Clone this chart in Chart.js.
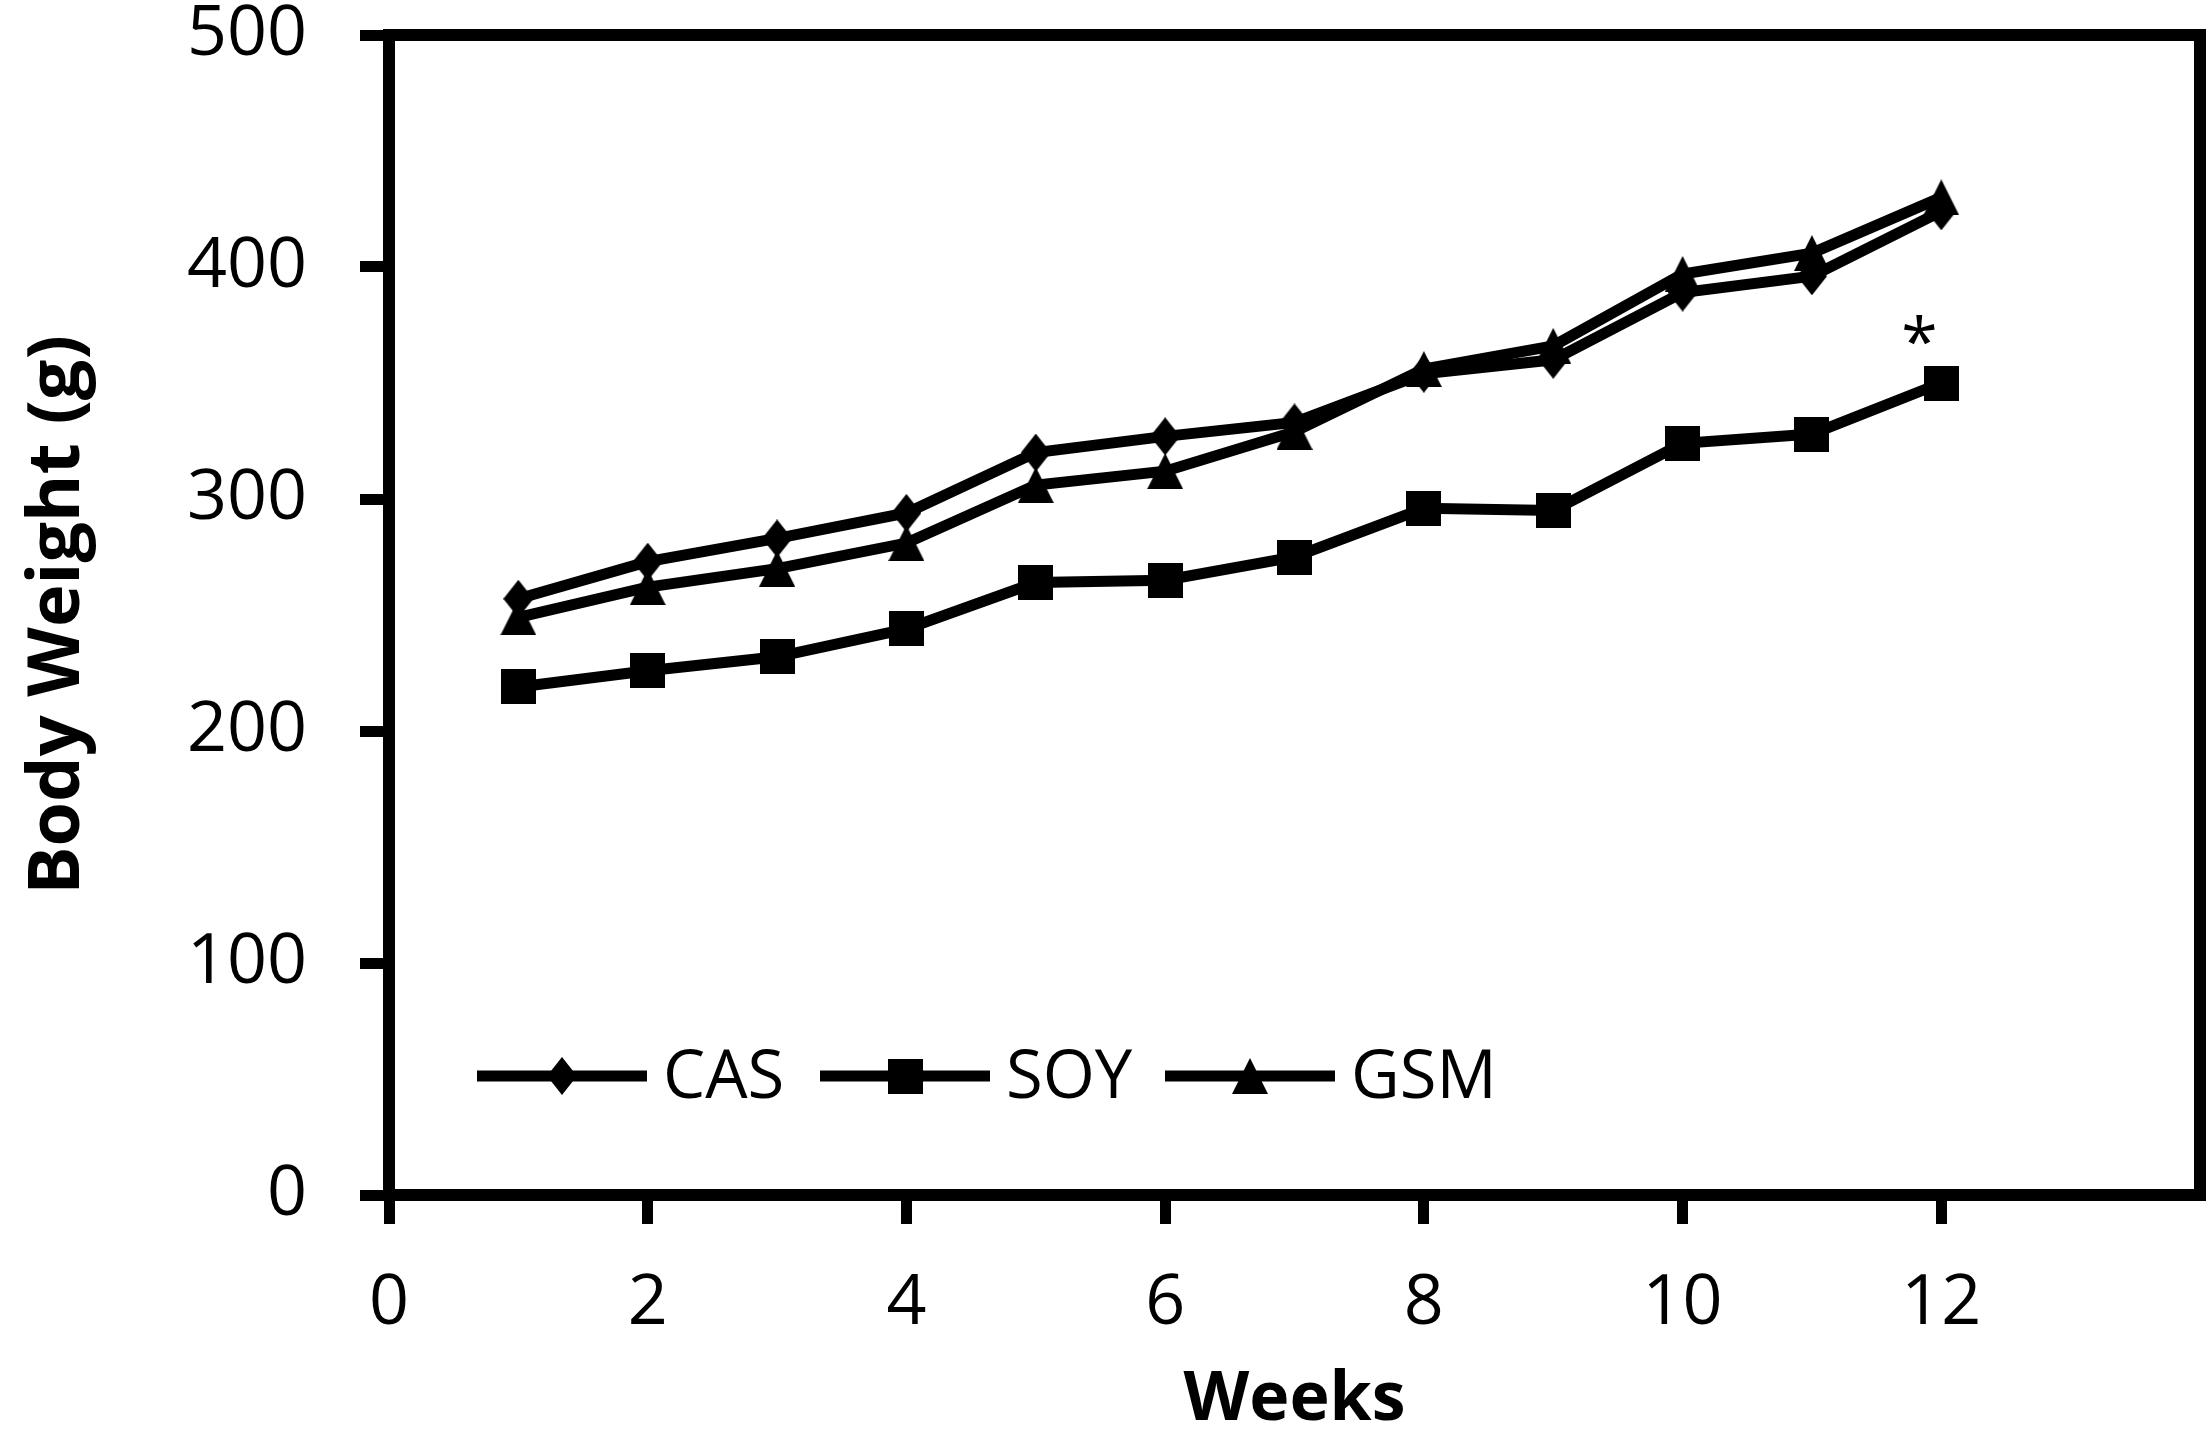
<!DOCTYPE html>
<html><head><meta charset="utf-8">
<script src="https://cdn.jsdelivr.net/npm/chart.js@4"></script>
<style>html,body{margin:0;padding:0;background:#fff;} #wrap{width:2208px;height:1429px;}</style>
</head><body><div id="wrap"><canvas id="c" width="2208" height="1429"></canvas></div>
<script>
// ---- data ----
const weeks = [1,2,3,4,5,6,7,8,9,10,11,12];
const casWeight = [257,273,283,294,320,327,333,354,360,389,396,424];
const soyWeight = [219,226,232,244,264,265,275,296,295,324,328,350];
const gsmWeight = [249,262,270,281,306,312,329,356,366,397,406,430];
const seriesNames = ['CAS','SOY','GSM'];
const xTickValues = [0,2,4,6,8,10,12];
const yTickValues = [0,100,200,300,400,500];
const sigLabel = '*';
const sigWeek = 11.83;
const sigValue = 373;

// ---- marker shapes ----
function makeDiamond(w,h){const c=document.createElement('canvas');c.width=w;c.height=h;const x=c.getContext('2d');x.fillStyle='#000';x.beginPath();x.moveTo(w/2,0);x.lineTo(w,h/2);x.lineTo(w/2,h);x.lineTo(0,h/2);x.closePath();x.fill();return c;}
function makeSquare(w,h){const c=document.createElement('canvas');c.width=w;c.height=h;const x=c.getContext('2d');x.fillStyle='#000';x.fillRect(0,0,w,h);return c;}
function makeTriangle(w,h){const c=document.createElement('canvas');c.width=w;c.height=h;const x=c.getContext('2d');x.fillStyle='#000';x.beginPath();x.moveTo(w/2,0);x.lineTo(w,h);x.lineTo(0,h);x.closePath();x.fill();return c;}
const markers = [makeDiamond(30,38), makeSquare(35,35), makeTriangle(36,36)];

const toPts = arr => weeks.map((w,i)=>({x:w,y:arr[i]}));
const FONT = "'Open Sans', 'Liberation Sans', sans-serif";

const framePlugin = {
  id:'frame',
  afterDatasetsDraw(chart){
    const {ctx, chartArea:a, scales} = chart;
    ctx.save();
    ctx.strokeStyle='#000'; ctx.lineWidth=12;
    ctx.strokeRect(a.left, a.top, a.right-a.left, a.bottom-a.top);
    // legend
    const lx = [a.left+88, a.left+431, a.left+776];
    const ly = a.bottom - 119;
    ctx.font = "67px " + FONT;
    ctx.textBaseline='alphabetic'; ctx.fillStyle='#000';
    seriesNames.forEach((n,i)=>{
      ctx.lineWidth=11; ctx.beginPath(); ctx.moveTo(lx[i],ly); ctx.lineTo(lx[i]+170,ly); ctx.stroke();
      const m = markers[i];
      ctx.drawImage(m, lx[i]+85-m.width/2, ly-m.height/2);
      ctx.fillText(n, lx[i]+186, ly+22);
    });
    // significance mark
    const px = scales.x.getPixelForValue(sigWeek), py = scales.y.getPixelForValue(sigValue);
    ctx.font = "66px " + FONT;
    const mt = ctx.measureText(sigLabel);
    ctx.fillText(sigLabel, px - (mt.actualBoundingBoxRight - mt.actualBoundingBoxLeft)/2, py + (mt.actualBoundingBoxAscent - mt.actualBoundingBoxDescent)/2);
    ctx.restore();
  }
};

new Chart(document.getElementById('c'), {
  type:'line',
  data:{
    datasets:[casWeight, soyWeight, gsmWeight].map((arr,i)=>({
      label: seriesNames[i], data: toPts(arr),
      borderColor:'#000', backgroundColor:'#000', borderWidth:11, tension:0,
      pointStyle: markers[i], pointRadius:18, pointHoverRadius:18
    }))
  },
  options:{
    responsive:false, devicePixelRatio:1, animation:false,
    layout:{autoPadding:false, padding:{top:0, right:8, bottom:0, left:0}},
    plugins:{legend:{display:false}, tooltip:{enabled:false}},
    scales:{
      x:{type:'linear', min:0, max:14,
        afterBuildTicks: s => { s.ticks = xTickValues.map(v=>({value:v})); },
        afterFit: s => { s.height = 234; s.paddingLeft = 0; s.paddingRight = 0; },
        ticks:{font:{family:FONT, size:70, lineHeight:1}, color:'#000', padding:45, maxRotation:0, autoSkip:false},
        grid:{drawOnChartArea:false, drawTicks:true, tickLength:29, lineWidth:11, color:'#000'},
        border:{display:true, width:12, color:'#000'},
        title:{display:true, text:'Weeks', color:'#000', font:{family:FONT, size:68, weight:'bold', lineHeight:1}, padding:-6}
      },
      y:{type:'linear', min:0, max:500,
        afterBuildTicks: s => { s.ticks = yTickValues.map(v=>({value:v})); },
        afterFit: s => { s.width = 389; s.paddingTop = 35; s.paddingBottom = 0; },
        ticks:{font:{family:FONT, size:70, lineHeight:1}, color:'#000', padding:53},
        grid:{drawOnChartArea:false, drawTicks:true, tickLength:29, lineWidth:11, color:'#000'},
        border:{display:true, width:12, color:'#000'},
        title:{display:true, text:'Body Weight (g)', color:'#000', font:{family:FONT, size:72, weight:'bold', lineHeight:1}, padding:22}
      }
    }
  },
  plugins:[framePlugin]
});
</script></body></html>
